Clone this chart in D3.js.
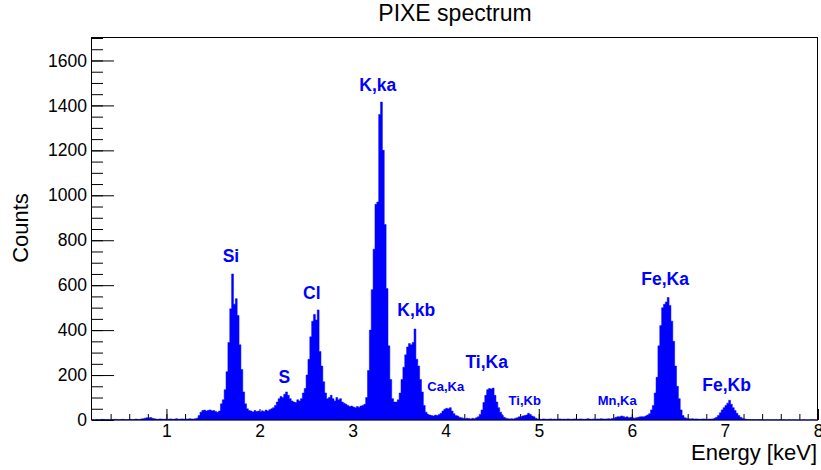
<!DOCTYPE html>
<html><head><meta charset="utf-8">
<script src="https://cdn.jsdelivr.net/npm/d3@7"></script>
<style>
html,body{margin:0;padding:0;background:#fff;}
svg{display:block;font-family:"Liberation Sans",Arial,Helvetica,sans-serif;}
</style></head><body>
<svg id="c" width="821" height="470"></svg>
<script>
// Histogram definition (keV)
const histMin = 0.2, histMax = 8.0, binWidth = 0.02;
// Counts per 0.02 keV bin, 0.20 .. 8.00 keV (10 bins per row = 0.2 keV)
const counts = [
  1,0,2,1,1,3,2,1,2,1,
  2,1,3,2,1,2,3,2,1,2,
  3,2,2,4,3,2,5,6,8,10,
  9,11,8,6,4,3,5,4,3,4,
  3,4,5,3,4,6,3,4,5,4,
  5,4,6,5,4,6,8,20,35,42,
  44,40,43,45,41,42,38,34,40,72,
  90,135,215,345,495,650,515,540,465,335,
  225,125,72,50,42,40,36,42,38,40,
  36,41,38,44,40,46,50,55,65,80,
  95,105,100,115,125,110,95,85,80,78,
  90,85,95,120,140,200,270,370,440,470,
  445,490,305,240,170,120,95,100,110,95,
  85,100,90,95,80,75,70,65,60,62,
  58,55,60,57,62,65,70,100,220,400,
  580,760,960,970,1360,1415,1200,870,585,330,
  180,95,80,80,90,120,180,235,290,325,
  340,335,345,405,270,240,180,125,65,35,
  25,22,20,18,22,20,25,30,40,48,
  52,50,55,40,28,20,18,12,10,8,
  6,8,7,5,8,6,10,14,25,45,
  78,110,135,140,138,142,110,80,55,35,
  20,12,8,6,5,6,5,8,10,14,
  15,18,20,22,30,25,18,14,8,5,
  4,3,5,4,3,4,5,3,4,3,
  4,5,3,4,3,5,4,3,4,5,
  3,4,5,4,3,4,6,4,3,5,
  4,5,4,6,5,4,5,6,5,7,
  8,12,15,14,18,16,12,14,10,12,
  10,8,10,12,14,15,14,18,22,28,
  45,65,120,190,330,420,500,515,525,545,
  510,440,350,240,150,95,45,20,10,8,
  6,5,6,4,5,4,3,4,5,4,
  3,4,4,5,8,12,20,32,45,55,
  65,75,88,70,55,42,30,20,12,8,
  5,3,2,2,1,2,1,1,2,1,
  1,0,1,1,0,1,0,1,0,1,
  0,1,0,0,1,0,0,1,0,0,
  0,0,1,0,0,0,1,0,0,0
];
const xTickValues = [1,2,3,4,5,6,7,8];
const yTickValues = [0,200,400,600,800,1000,1200,1400,1600];
const yMax = 1700;

// Peak annotations (label, energy of label centre, count at label baseline)
const peakLabels      = ["Si","S","Cl","K,ka","K,kb","Ca,Ka","Ti,Ka","Ti,Kb","Mn,Ka","Fe,Ka","Fe,Kb"];
const peakLabelEnergy = [1.693,2.267,2.562,3.271,3.684,4.001,4.441,4.849,5.842,6.358,7.018];
const peakLabelCount  = [702,164,538,1462,462,129,231,67,67,600,129];
const peakLabelSmall  = [false,false,false,false,false,true,false,true,true,false,false];

const titleText = "PIXE spectrum";
const xTitle = "Energy [keV]";
const yTitle = "Counts";

const L = 92, R = 818, T = 38, B = 420;
const svg = d3.select('#c');
const x = d3.scaleLinear().domain([histMin, histMax]).range([L, R]);
const y = d3.scaleLinear().domain([0, yMax]).range([B, T]);

const tickFont = "17.5px";

// minor x ticks
const xMinor = d3.range(2, 41).map(d => d / 5).filter(d => d >= histMin && d <= histMax);
svg.append('g').attr('transform', `translate(0,${B})`)
  .call(d3.axisBottom(x).tickValues(xMinor).tickSize(-6).tickFormat(''))
  .call(g => g.select('.domain').remove());
// major x ticks
svg.append('g').attr('transform', `translate(0,${B})`)
  .call(d3.axisBottom(x).tickValues(xTickValues).tickSize(-11).tickPadding(5).tickFormat(d3.format('d')))
  .call(g => g.select('.domain').remove())
  .call(g => g.selectAll('text').attr('font-size', tickFont).attr('font-family', '"Liberation Sans",Arial,sans-serif').attr('fill', '#000'));

// minor y ticks
const yMinor = d3.range(0, 35).map(d => d * 50);
svg.append('g').attr('transform', `translate(${L},0)`)
  .call(d3.axisLeft(y).tickValues(yMinor).tickSize(-11).tickFormat(''))
  .call(g => g.select('.domain').remove());
// major y ticks
svg.append('g').attr('transform', `translate(${L},0)`)
  .call(d3.axisLeft(y).tickValues(yTickValues).tickSize(-22).tickPadding(5).tickFormat(d3.format('d')))
  .call(g => g.select('.domain').remove())
  .call(g => g.selectAll('text').attr('font-size', tickFont).attr('font-family', '"Liberation Sans",Arial,sans-serif').attr('fill', '#000'));

svg.selectAll('.tick line').attr('stroke', '#000');

// histogram
const pts = counts.map((c, i) => [histMin + i * binWidth, c]);
pts.push([histMax, counts[counts.length - 1]]);
const area = d3.area().curve(d3.curveStepAfter)
  .x(d => x(d[0])).y0(y(0)).y1(d => y(d[1]));
svg.append('path').datum(pts).attr('d', area)
  .attr('fill', '#0000ff').attr('stroke', '#0000ff').attr('stroke-width', 0.5);

// frame
svg.append('rect').attr('x', L - 0.5).attr('y', T - 0.5).attr('width', R - L).attr('height', B - T + 0.5)
  .attr('fill', 'none').attr('stroke', '#000').attr('stroke-width', 1);

// peak labels
svg.append('g').selectAll('text').data(peakLabels).join('text')
  .attr('x', (d, i) => x(peakLabelEnergy[i]))
  .attr('y', (d, i) => y(peakLabelCount[i]))
  .attr('text-anchor', 'middle')
  .attr('font-weight', 'bold')
  .attr('font-size', (d, i) => peakLabelSmall[i] ? '13px' : '17.5px')
  .attr('fill', '#0000ff')
  .text(d => d);

// titles
svg.append('text').attr('x', (L + R) / 2).attr('y', 20.5).attr('text-anchor', 'middle')
  .attr('font-size', '23px').attr('fill', '#000').text(titleText);
svg.append('text').attr('x', 817).attr('y', 460).attr('text-anchor', 'end')
  .attr('font-size', '22px').attr('fill', '#000').text(xTitle);
svg.append('text').attr('transform', 'translate(28,228) rotate(-90)').attr('text-anchor', 'middle')
  .attr('font-size', '22px').attr('fill', '#000').text(yTitle);
</script>
</body></html>
